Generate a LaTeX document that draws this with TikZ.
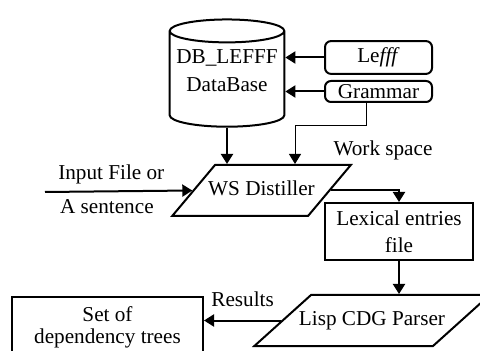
\documentclass[tikz,border=0pt]{standalone}
\usepackage{fontspec}
\setmainfont{Liberation Serif}
\usepackage{tikz}
\usetikzlibrary{shapes,arrows.meta,positioning}

\tikzset{
  box/.style={draw, rectangle, line width=1pt, align=center},
  store/.style={draw, cylinder, shape border rotate=90, aspect=0.2, line width=1pt, align=center},
  src/.style={draw, rectangle, rounded corners=3pt, line width=1pt},
  proc/.style={draw, trapezium, inner xsep=0pt, inner ysep=8.25pt,
    text height=7pt, text depth=2pt, line width=1pt},
  flow/.style={-{Triangle[length=5pt,width=6pt]}, line width=1pt},
}

\begin{document}
\begin{tikzpicture}[x=0.5pt,y=-0.5pt, font=\fontsize{10.6}{14}\selectfont]
\useasboundingbox (0,0) rectangle (480,351);
% stores and sources
\node[store, minimum width=55pt, minimum height=53.5pt, text depth=11pt] (db) at (227,82) {DB\_LEFFF\\DataBase};
\node[src, minimum width=53.5pt, minimum height=14.5pt] (leff) at (378.5,57.5) {Le\textit{fff}};
\node[src, minimum width=53.5pt, minimum height=10.5pt, inner sep=0.5pt] (gram) at (378.5,91.5) {Grammar};
% processing steps (text wider than the straight part of the slanted box)
\node[proc, trapezium left angle=50, trapezium right angle=130] (ws) at (261.5,190.5) {\makebox[46.5pt]{WS Distiller}};
\node[box, minimum width=74pt, minimum height=28.5pt, font=\fontsize{10.6}{13.5}\selectfont] (lex) at (399,231.5) {Lexical entries\\file};
\node[proc, trapezium left angle=42, trapezium right angle=138] (lisp) at (372,320.5) {\makebox[61pt]{Lisp CDG Parser}};
\node[box, minimum width=95.5pt, minimum height=30pt, font=\fontsize{10.6}{11}\selectfont] (set) at (107.5,327) {Set of\\dependency trees};
\node (wsp) at (383,150) {Work space};

\coordinate (in) at (45,192);
\coordinate (wsjoin) at (295,126);

\draw[flow] (leff.west) -- (leff.west -| db.east);
\draw[flow] (gram.west) -- (gram.west -| db.east);
\draw[flow] (db.bottom) -- (db.bottom |- ws.north);
\draw[flow, line width=0.5pt] ([xshift=-6pt]gram.south) |- (wsjoin) -- (wsjoin |- ws.north);
\draw[flow] (in) -- node[above, pos=0.45] {Input File or} node[below, pos=0.42] {A sentence} (ws.west);
\draw[flow] (ws.east) -| (lex.north);
\draw[flow] (lex.south) -- (lex.south |- lisp.north);
\draw[flow] (lisp.west) -- node[above=3pt] {Results} (lisp.west -| set.east);
\end{tikzpicture}
\end{document}
